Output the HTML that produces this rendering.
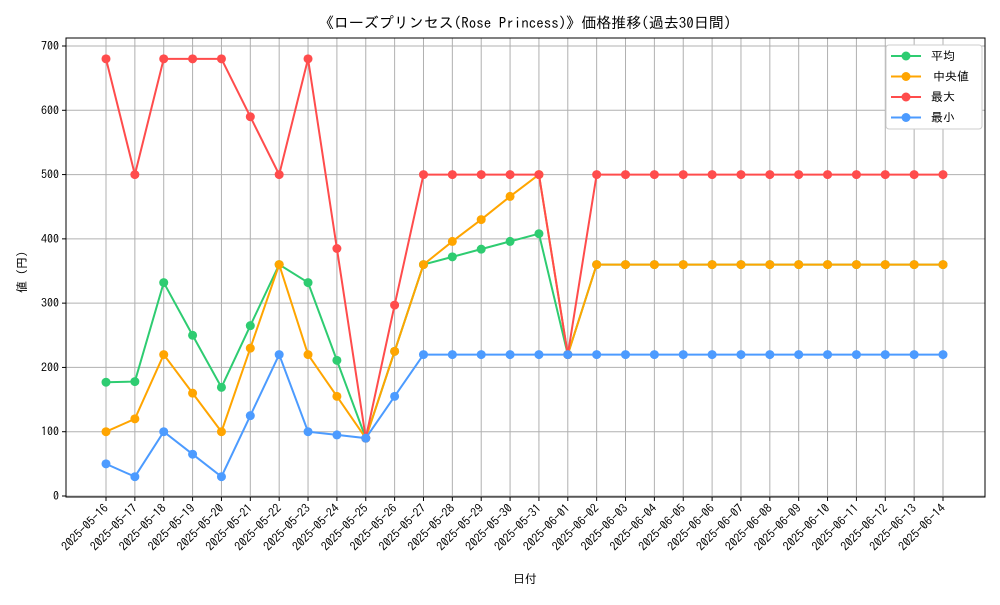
<!DOCTYPE html>
<html><head><meta charset="utf-8"><style>
html,body{margin:0;padding:0;background:#fff;}
svg text{font-family:"IPAGothic","Noto Sans CJK JP","Liberation Mono",sans-serif;}
</style></head><body>
<svg id="chart" width="1000" height="600" xmlns="http://www.w3.org/2000/svg">
<rect width="1000" height="600" fill="#fff"/>
<text x="525" y="28" text-anchor="middle" font-size="15" fill="#000">《ローズプリンセス(Rose Princess)》価格推移(過去30日間)</text>
<g id="grid"></g>
<g id="axes"></g>
<g id="series"></g>
<text x="525" y="583" text-anchor="middle" font-size="12">日付</text>
<text transform="translate(26,272) rotate(-90)" text-anchor="middle" font-size="12">値 (円)</text>
<g>
<rect x="886" y="45" width="96" height="84" rx="3" fill="#fff" stroke="#ccc"/>
<g id="legend"></g>
</g>
</svg>
<script>
const dates=["2025-05-16","2025-05-17","2025-05-18","2025-05-19","2025-05-20","2025-05-21","2025-05-22","2025-05-23","2025-05-24","2025-05-25","2025-05-26","2025-05-27","2025-05-28","2025-05-29","2025-05-30","2025-05-31","2025-06-01","2025-06-02","2025-06-03","2025-06-04","2025-06-05","2025-06-06","2025-06-07","2025-06-08","2025-06-09","2025-06-10","2025-06-11","2025-06-12","2025-06-13","2025-06-14"];
const avgVals=[177,178,332,250,169,265,360,332,211,90,225,360,372,384,396,408,220,360,360,360,360,360,360,360,360,360,360,360,360,360];
const medianVals=[100,120,220,160,100,230,360,220,155,90,225,360,396,430,466,500,220,360,360,360,360,360,360,360,360,360,360,360,360,360];
const maxVals=[680,500,680,680,680,590,500,680,385,90,297,500,500,500,500,500,220,500,500,500,500,500,500,500,500,500,500,500,500,500];
const minVals=[50,30,100,65,30,125,220,100,95,90,155,220,220,220,220,220,220,220,220,220,220,220,220,220,220,220,220,220,220,220];
const yTicks=[0,100,200,300,400,500,600,700];
const seriesNames=["平均","中央値","最大","最小"];
const seriesColors=["#2ecc71","#ffa500","#ff4c4c","#4c9bff"];
const NS="http://www.w3.org/2000/svg";
const L=66,R=985,T=38,B=497;
const x=i=>106+i*(943-106)/(dates.length-1);
const y=v=>496-v*(450/700);
function mk(tag,attrs,parent){const e=document.createElementNS(NS,tag);for(const k in attrs)e.setAttribute(k,attrs[k]);parent.appendChild(e);return e;}
const grid=document.getElementById('grid'),axes=document.getElementById('axes'),ser=document.getElementById('series'),leg=document.getElementById('legend');
dates.forEach((d,i)=>{
 const g=mk('line',{x1:x(i),x2:x(i),y1:T,y2:B,stroke:'#b0b0b0','stroke-width':1},grid);
 
 
 mk('line',{x1:x(i),x2:x(i),y1:B,y2:B+4,stroke:'#000'},axes);
 const t=mk('text',{x:x(i)+3,y:B+12,'text-anchor':'end','font-size':12,transform:`rotate(-45 ${x(i)+3} ${B+12})`},axes);
 t.textContent=d;
 
 
});
yTicks.forEach(v=>{
 const g=mk('line',{x1:L,x2:R,y1:y(v),y2:y(v),stroke:'#b0b0b0','stroke-width':1},grid);
 
 
 mk('line',{x1:L-4,x2:L,y1:y(v),y2:y(v),stroke:'#000'},axes);
 const t=mk('text',{x:L-7,y:y(v)+4,'text-anchor':'end','font-size':12},axes);
 t.textContent=v;
 
 
});
const frame=mk('rect',{x:L,y:T,width:R-L,height:B-T,fill:'none',stroke:'#000','stroke-width':1},axes);


const all=[avgVals,medianVals,maxVals,minVals];
const keys=['avg','median','max','min'];
[0,1,2,3].forEach(s=>{
 const vals=all[s],c=seriesColors[s];
 const g=mk('g',{},ser);
 
 
 const p=mk('polyline',{points:vals.map((v,i)=>x(i)+','+y(v)).join(' '),fill:'none',stroke:c,'stroke-width':2},g);
 
 
 vals.forEach((v,i)=>{
  const m=mk('circle',{cx:x(i),cy:y(v),r:4.5,fill:c},g);
  
  
 });
});
seriesNames.forEach((n,i)=>{
 const yy=56+i*20.5;
 const g=mk('g',{},leg);
 
 
 mk('line',{x1:891,x2:921,y1:yy,y2:yy,stroke:seriesColors[i],'stroke-width':2},g);
 mk('circle',{cx:906,cy:yy,r:4.5,fill:seriesColors[i]},g);
 const t=mk('text',{x:i==1?933:931,y:yy+4,'font-size':12},g);
 t.textContent=n;
});
</script>
</body></html>
